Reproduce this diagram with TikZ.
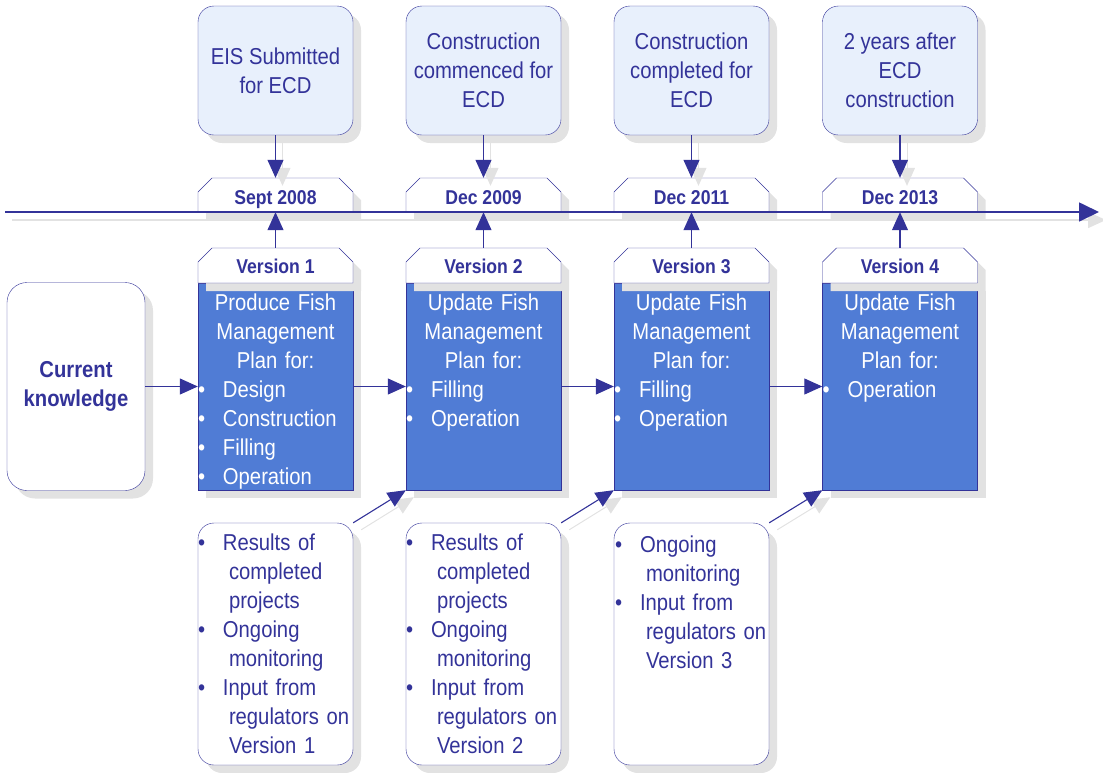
\documentclass[tikz,border=0pt]{standalone}
\usepackage{fontspec}
\setmainfont[FakeStretch=0.88]{Liberation Sans}
\usetikzlibrary{shapes.misc,shadows,arrows.meta,calc}
\definecolor{dblue}{HTML}{333399}
\definecolor{mblue}{HTML}{507CD5}
\definecolor{lblue}{HTML}{E8F0FC}
\definecolor{shgray}{HTML}{E2E2E2}
\newcommand{\bul}{\makebox[25pt][l]{\textbullet}}
\newcommand{\itm}[1]{\hangindent=31pt\hangafter=1\noindent\bul#1\par}
\tikzset{
  shd/.style={drop shadow={shadow xshift=8pt,shadow yshift=-8pt,fill=shgray,opacity=1}},
  bigfont/.style={font=\fontsize{23}{29}\selectfont},
  topbox/.style={shd,draw=dblue,fill=lblue,rounded corners=16pt,minimum width=155pt,minimum height=129pt,inner sep=0pt,text=dblue,bigfont,align=center},
  tabbox/.style={shd,draw=dblue,fill=white,chamfered rectangle,chamfered rectangle corners={north west,north east},chamfered rectangle sep=7pt,minimum width=155pt,inner sep=0pt,text=dblue,text depth=0pt,font=\bfseries\fontsize{20}{24}\selectfont},
  datetab/.style={tabbox,minimum height=34pt,text height=18pt},
  vertab/.style={tabbox,minimum height=35pt,text height=15pt},
  planbox/.style={shd,draw=dblue,fill=mblue,minimum width=155pt,minimum height=207pt,inner sep=0pt},
  plantext/.style={text=white,bigfont,text width=155pt,inner sep=0pt,anchor=base west},
  inbox/.style={shd,draw=dblue,fill=white,rounded corners=16pt,minimum width=155pt,minimum height=242pt,inner sep=0pt},
  intext/.style={text=dblue,bigfont,text width=155pt,inner sep=0pt,anchor=base west},
  ckbox/.style={shd,draw=dblue,fill=white,rounded corners=20pt,minimum width=138pt,minimum height=208pt,inner sep=0pt,text=dblue,font=\bfseries\fontsize{23}{29}\selectfont,align=center},
  arr/.style={draw=dblue,line width=1.1pt,-{Triangle[length=18pt,width=16pt]}},
  tlarr/.style={draw=dblue,line width=1.7pt,-{Triangle[length=20pt,width=19pt]}},
  shline/.style={draw=shgray,line width=1.6pt,-{Triangle[length=18pt,width=16pt]}},
}
\begin{document}
\begin{tikzpicture}[x=1pt,y=-1pt]
\useasboundingbox (0,0) rectangle (1103,772);
% timeline coordinates
\coordinate (tlA) at (5,212);
\coordinate (tlB) at (1099,212);
% top boxes
\node[topbox] (t1) at (275.5,70.5) {EIS Submitted\\for ECD};
\node[topbox] (t2) at (483.5,70.5) {Construction\\commenced for\\ECD};
\node[topbox] (t3) at (691.5,70.5) {Construction\\completed for\\ECD};
\node[topbox] (t4) at (900,70.5) {2 years after\\ECD\\construction};
% date tabs
\node[datetab] (d1) at (275.5,195) {Sept 2008};
\node[datetab] (d2) at (483.5,195) {Dec 2009};
\node[datetab] (d3) at (691.5,195) {Dec 2011};
\node[datetab] (d4) at (900,195) {Dec 2013};
% shadows of connectors
\draw[shline,transform canvas={shift={(7pt,-8pt)}}] (tlA) -- (tlB);
\foreach \i in {1,2,3,4}{
  \draw[shline,line width=1pt,transform canvas={shift={(7pt,-8pt)}}] (t\i.south) -- (d\i.north);
}
% plan boxes
\node[planbox] (p1) at (275.5,386.5) {};
\node[planbox] (p2) at (483.5,386.5) {};
\node[planbox] (p3) at (691.5,386.5) {};
\node[planbox] (p4) at (900,386.5) {};
% version tabs
\node[vertab] (v1) at (275.5,265.5) {Version 1};
\node[vertab] (v2) at (483.5,265.5) {Version 2};
\node[vertab] (v3) at (691.5,265.5) {Version 3};
\node[vertab] (v4) at (900,265.5) {Version 4};
% plan texts
\node[plantext] (p1t) at ($(p1.north west)+(0,28)$) {{\centering Produce Fish\\Management\\Plan for:\par}\itm{Design}\itm{Construction}\itm{Filling}\itm{Operation}};
\node[plantext] (p2t) at ($(p2.north west)+(0,28)$) {{\centering Update Fish\\Management\\Plan for:\par}\itm{Filling}\itm{Operation}};
\node[plantext] (p3t) at ($(p3.north west)+(0,28)$) {{\centering Update Fish\\Management\\Plan for:\par}\itm{Filling}\itm{Operation}};
\node[plantext] (p4t) at ($(p4.north west)+(0,28)$) {{\centering Update Fish\\Management\\Plan for:\par}\itm{Operation}};
% current knowledge
\node[ckbox] (ck) at (76,386.5) {Current\\knowledge};
% input boxes
\node[inbox] (i1) at (275.5,644) {};
\node[inbox] (i2) at (483.5,644) {};
\node[inbox] (i3) at (691.5,644) {};
\draw[shline,line width=1pt,transform canvas={shift={(8pt,-7pt)}}] (i1.north east) -- (p2.south west);
\draw[shline,line width=1pt,transform canvas={shift={(8pt,-7pt)}}] (i2.north east) -- (p3.south west);
\draw[shline,line width=1pt,transform canvas={shift={(8pt,-7pt)}}] (i3.north east) -- (p4.south west);
\node[intext] (i1t) at ($(i1.north west)+(0,28)$) {\itm{Results of\newline completed\newline projects}\itm{Ongoing\newline monitoring}\itm{Input from\newline regulators on\newline Version 1}};
\node[intext] (i2t) at ($(i2.north west)+(0,28)$) {\itm{Results of\newline completed\newline projects}\itm{Ongoing\newline monitoring}\itm{Input from\newline regulators on\newline Version 2}};
\node[intext] (i3t) at ($(i3.north west)+(1,30)$) {\itm{Ongoing\newline monitoring}\itm{Input from\newline regulators on\newline Version 3}};
% timeline
\draw[tlarr] (tlA) -- (tlB);
% connectors
\foreach \i in {1,2,3,4}{
  \draw[arr] (t\i.south) -- (d\i.north);
  \draw[arr] (v\i.north) -- (d\i.south);
}
\draw[arr] (ck.east) -- (p1.west);
\draw[arr] (p1.east) -- (p2.west);
\draw[arr] (p2.east) -- (p3.west);
\draw[arr] (p3.east) -- (p4.west);
\draw[arr] (i1.north east) -- (p2.south west);
\draw[arr] (i2.north east) -- (p3.south west);
\draw[arr] (i3.north east) -- (p4.south west);
\end{tikzpicture}
\end{document}
